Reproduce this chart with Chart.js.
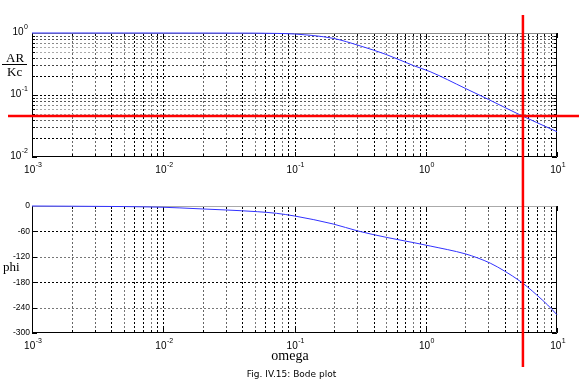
<!DOCTYPE html>
<html><head><meta charset="utf-8">
<script src="https://cdn.jsdelivr.net/npm/chart.js@4/dist/chart.umd.min.js"></script>
<style>
html,body{margin:0;padding:0;background:#fff;}
#wrap{position:relative;width:583px;height:383px;overflow:hidden;background:#fff;}
canvas{position:absolute;left:0;}
.t{position:absolute;white-space:nowrap;color:#000;}
</style></head><body>
<div id="wrap">
<canvas id="c1" width="583" height="190" style="top:0"></canvas>
<canvas id="c2" width="583" height="193" style="top:190px"></canvas>
<div class="t" style="left:6px;top:51px;font:13px/13px 'Liberation Serif'">AR</div>
<div style="position:absolute;left:2px;top:64px;width:25px;height:1px;background:#000"></div>
<div class="t" style="left:7px;top:65px;font:13px/13px 'Liberation Serif'">Kc</div>
<div class="t" style="left:3px;top:260px;font:13px/13px 'Liberation Serif'">phi</div>
<div class="t" style="left:0;width:580px;text-align:center;top:349px;font:14px/14px 'Liberation Serif'">omega</div>
<div class="t" style="left:0;width:583px;text-align:center;top:369px;font:9px/11px 'DejaVu Sans'">Fig. IV.15: Bode plot</div>
</div>
<script>
// ---- data ----
const omegaAR = [0.001,0.002,0.005,0.01,0.02,0.05,0.074,0.1,0.197,0.316,0.5,0.81,1.08,2,3,5.2,7,10];
const arKc    = [1,1,1,0.999,0.998,0.995,0.985,0.963,0.82,0.62,0.45,0.297,0.238,0.128,0.085,0.048,0.036,0.0256];
const omegaPhi = [0.001,0.002,0.005,0.01,0.0134,0.02,0.03,0.052,0.073,0.1,0.197,0.304,0.5,0.81,1.08,2,2.5,3.1,4,5.2,6,7,8.5,10];
const phiDeg   = [0,-0.5,-1.3,-3,-4.5,-7,-9.4,-13.4,-17.3,-23.6,-42.5,-59,-74,-86.6,-94.5,-113,-123,-135,-154,-177,-192,-210,-234,-257];
const omegaTicks = [0.001,0.01,0.1,1,10];
const omegaTickExp = ['-3','-2','-1','0','1'];
const arTicks = [1,0.1,0.01];
const arTickExp = ['0','-1','-2'];
const phiTicks = [0,-60,-120,-180,-240,-300];
const phiTickLabels = ['0','-60','-120','-180','-240','-300'];
const crossOmega = 5.5;
const crossAR = 0.046;

// ---- helpers ----
function logGrid(lo, hi){ const t=[]; for(let e=lo;e<hi;e++){ for(let m=1;m<10;m++) t.push(+(m*Math.pow(10,e)).toPrecision(3)); } t.push(Math.pow(10,hi)); return t; }
function mant(v){ const e=Math.floor(Math.log10(v)+1e-9); return Math.round(v/Math.pow(10,e)); }
const vCol = {1:'#000',2:'#666',3:'#666',4:'#000',5:'#777',6:'#000',7:'#000',8:'#777',9:'#000'};
const hCol = {1:'#000',2:'#000',3:'#444',4:'#666',5:'#aaa',6:'#aaa',7:'#888',8:'#555',9:'#555'};
const xGrid = logGrid(-3,1);
const arGrid = logGrid(-2,0);

function drawPow(ctx, x, y, exp, align){
  ctx.save();
  ctx.fillStyle='#000'; ctx.textBaseline='middle'; ctx.textAlign='left';
  ctx.font="10px 'Liberation Sans'"; const wb=ctx.measureText('10').width;
  ctx.font="7px 'Liberation Sans'"; const we=ctx.measureText(exp).width;
  const tot=wb+we+0.5;
  const sx = align==='center' ? x - tot/2 : x - tot;
  ctx.font="10px 'Liberation Sans'"; ctx.fillText('10', sx, y);
  ctx.font="7px 'Liberation Sans'"; ctx.fillText(exp, sx+wb+0.5, y-5);
  ctx.restore();
}

function makePlugin(cfg){
  return {
    id:'bodeDeco',
    beforeDatasetsDraw(chart){
      const {ctx, chartArea:a, scales:{x,y}} = chart;
      ctx.save();
      ctx.lineWidth=1; ctx.setLineDash([2,2]);
      cfg.xGrid.forEach(v=>{
        const p=Math.round(x.getPixelForValue(v))+0.5;
        if(p<=a.left+1||p>=a.right-1) return;
        ctx.strokeStyle=cfg.xColor(v); ctx.beginPath(); ctx.moveTo(p,a.top); ctx.lineTo(p,a.bottom); ctx.stroke();
      });
      cfg.yGrid.forEach(v=>{
        const p=Math.round(y.getPixelForValue(v))+0.5;
        if(p<=a.top+1||p>=a.bottom-1) return;
        ctx.strokeStyle=cfg.yColor(v); ctx.beginPath(); ctx.moveTo(a.left,p); ctx.lineTo(a.right,p); ctx.stroke();
      });
      ctx.setLineDash([]);
      // inward ticks
      ctx.strokeStyle='#000';
      cfg.xGrid.forEach(v=>{
        const p=Math.round(x.getPixelForValue(v))+0.5;
        const L = cfg.xMajor.includes(v)?5:3;
        ctx.beginPath(); ctx.moveTo(p,a.bottom); ctx.lineTo(p,a.bottom-L); ctx.moveTo(p,a.top); ctx.lineTo(p,a.top+L); ctx.stroke();
      });
      cfg.yGrid.forEach(v=>{
        const p=Math.round(y.getPixelForValue(v))+0.5;
        const L = cfg.yMajor.includes(v)?5:3;
        ctx.beginPath(); ctx.moveTo(a.left,p); ctx.lineTo(a.left+L,p); ctx.moveTo(a.right,p); ctx.lineTo(a.right-L,p); ctx.stroke();
      });
      // frame
      const l=Math.round(a.left)+0.5, r=Math.round(a.right)-0.5, t=Math.round(a.top)+0.5, b=Math.round(a.bottom)-0.5;
      ctx.strokeStyle=cfg.topColor; ctx.beginPath(); ctx.moveTo(l,t); ctx.lineTo(r,t); ctx.stroke();
      ctx.strokeStyle='#000'; ctx.beginPath(); ctx.moveTo(l,t); ctx.lineTo(l,b); ctx.lineTo(r,b); ctx.lineTo(r,t); ctx.stroke();
      ctx.restore();
    },
    afterDraw(chart){
      const {ctx, chartArea:a, scales:{x,y}} = chart;
      omegaTicks.forEach((v,i)=>drawPow(ctx, x.getPixelForValue(v)+1, a.bottom+cfg.xLabelOff, omegaTickExp[i], 'center'));
      cfg.yLabels(ctx, y, a);
      // red crosshair
      ctx.save();
      ctx.strokeStyle='#ff0000'; ctx.lineWidth=2.5;
      const vx=x.getPixelForValue(crossOmega);
      ctx.beginPath(); ctx.moveTo(vx,cfg.vTop); ctx.lineTo(vx,cfg.vBot); ctx.stroke();
      if(cfg.hLine){
        const hy=y.getPixelForValue(crossAR);
        ctx.beginPath(); ctx.moveTo(8,hy); ctx.lineTo(579,hy); ctx.stroke();
      }
      ctx.restore();
    }
  };
}

const common = {responsive:false, animation:false, devicePixelRatio:1, events:[],
  plugins:{legend:{display:false}, tooltip:{enabled:false}}};

function axis(type,min,max,ticks,fit){
  return {type, min, max, display:true,
    afterBuildTicks:s=>{ s.ticks = ticks.map(v=>({value:v})); },
    afterFit:fit, ticks:{display:false}, grid:{display:false, drawTicks:false}, border:{display:false}};
}

new Chart(document.getElementById('c1'), {
  type:'line',
  data:{datasets:[{data: omegaAR.map((v,i)=>({x:v, y:arKc[i]})), borderColor:'rgb(50,50,255)', borderWidth:1,
    pointRadius:0, cubicInterpolationMode:'monotone', fill:false, clip:false}]},
  options:{...common,
    layout:{padding:{left:0,right:26,top:33,bottom:0}},
    scales:{
      x: axis('logarithmic',0.001,10,xGrid,s=>{s.height=33;}),
      y: axis('logarithmic',0.01,1,arGrid,s=>{s.width=32;})
    }},
  plugins:[makePlugin({
    xGrid, yGrid:arGrid, xMajor:omegaTicks, yMajor:arTicks,
    xColor:v=>vCol[mant(v)], yColor:v=>hCol[mant(v)], topColor:'#888',
    xLabelOff:13, vTop:15, vBot:190, hLine:true,
    yLabels:(ctx,y,a)=>arTicks.forEach((v,i)=>drawPow(ctx, 28, y.getPixelForValue(v)-1, arTickExp[i], 'right'))
  })]
});

new Chart(document.getElementById('c2'), {
  type:'line',
  data:{datasets:[{data: omegaPhi.map((v,i)=>({x:v, y:phiDeg[i]})), borderColor:'rgb(50,50,255)', borderWidth:1,
    pointRadius:0, cubicInterpolationMode:'monotone', fill:false, clip:false}]},
  options:{...common,
    layout:{padding:{left:0,right:26,top:16,bottom:0}},
    scales:{
      x: axis('logarithmic',0.001,10,xGrid,s=>{s.height=50;}),
      y: axis('linear',-300,0,phiTicks,s=>{s.width=32;})
    }},
  plugins:[makePlugin({
    xGrid, yGrid:phiTicks, xMajor:omegaTicks, yMajor:phiTicks,
    xColor:v=>vCol[mant(v)], yColor:v=>({'-60':'#000','-120':'#777','-180':'#000','-240':'#777'})[String(v)]||'#000', topColor:'#aaa',
    xLabelOff:13, vTop:0, vBot:177, hLine:false,
    yLabels:(ctx,y,a)=>{
      ctx.save(); ctx.fillStyle='#000'; ctx.font="8.5px 'Liberation Sans'"; ctx.textAlign='right'; ctx.textBaseline='middle';
      phiTicks.forEach((v,i)=>ctx.fillText(phiTickLabels[i], 30, y.getPixelForValue(v)));
      ctx.restore();
    }
  })]
});
</script>
</body></html>
